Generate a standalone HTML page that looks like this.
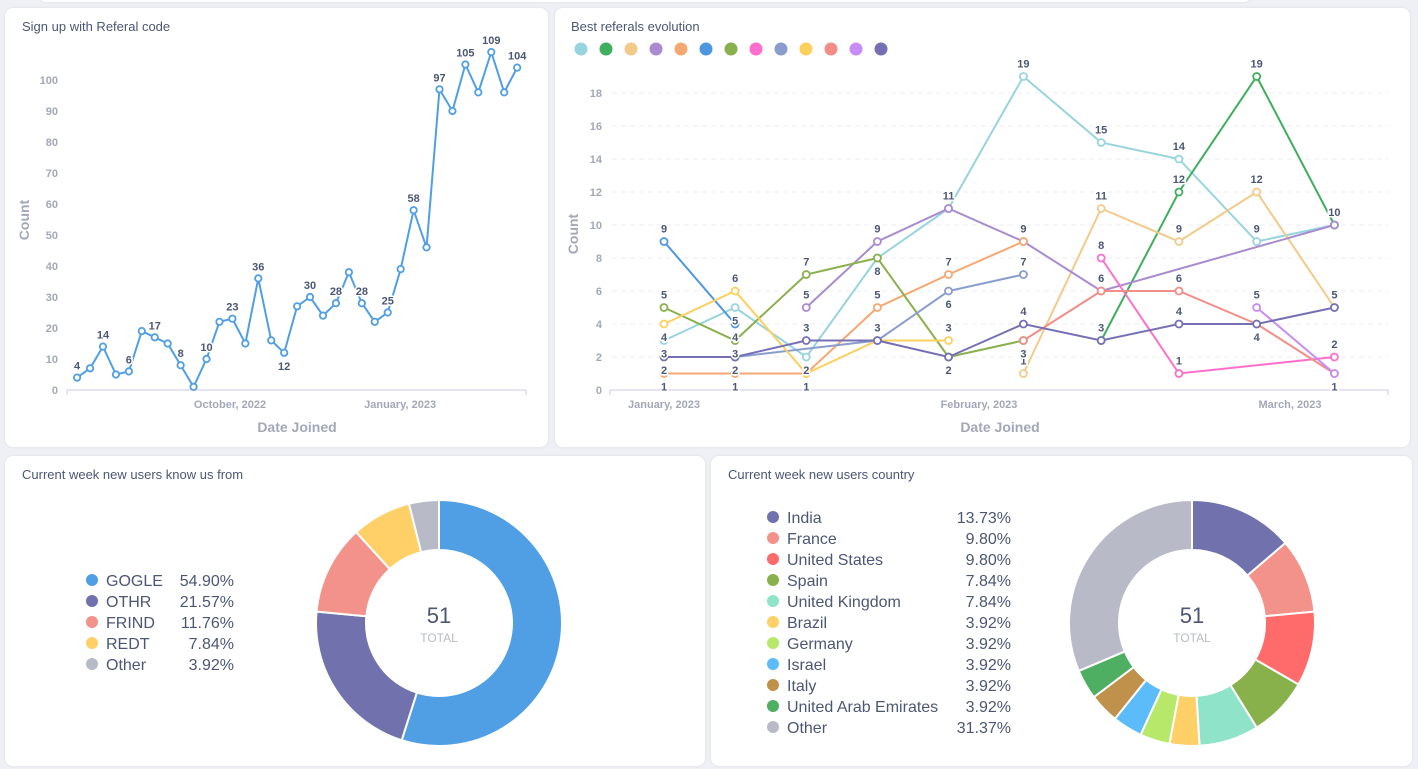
<!DOCTYPE html>
<html><head><meta charset="utf-8">
<style>
body{margin:0;width:1418px;height:769px;background:#eff0f5;font-family:"Liberation Sans",sans-serif;overflow:hidden;position:relative}
.card{position:absolute;background:#fff;border-radius:8px;box-shadow:0 0 3px rgba(0,0,0,0.08)}
.title{position:absolute;left:17px;top:11px;font-size:13px;color:#4c5773}
svg{position:absolute;left:0;top:0}
svg text{font-family:"Liberation Sans",sans-serif}
</style></head><body>
<div class="card" style="left:40px;top:-10px;width:1210px;height:12px"></div>
<div class="card" style="left:5px;top:8px;width:543px;height:439px"><div class="title">Sign up with Referal code</div></div>
<div class="card" style="left:555px;top:8px;width:855px;height:439px"><div class="title" style="left:16px">Best referals evolution</div></div>
<div class="card" style="left:5px;top:456px;width:700px;height:310px"><div class="title">Current week new users know us from</div></div>
<div class="card" style="left:711px;top:456px;width:701px;height:310px"><div class="title">Current week new users country</div></div>
<svg id="s" width="1418" height="769"></svg>
<script>
// Chart 1 data
const signupValues=[4,7,14,5,6,19,17,15,8,1,10,22,23,15,36,16,12,27,30,24,28,38,28,22,25,39,58,46,97,90,105,96,109,96,104];
const signupYTicks=[0,10,20,30,40,50,60,70,80,90,100];
const signupXTicks=["October, 2022","January, 2023"];
const signupXTickDays=[0,92];
// Chart 2 data
const refDays=[0,7,14,21,28,35,42,49,56,63];
const refColors=["#98d4de","#3fae5e","#f2ca8a","#a98bcf","#f5a872","#4e97e0","#89b04d","#ff6ecb","#8a9ccc","#fdd05e","#f28d87","#c78cf5","#7570b3"];
const refS1=[3,5,2,8,11,19,15,14,9,10];
const refS2=[null,null,null,null,null,null,3,12,19,10];
const refS3=[null,null,null,null,null,1,11,9,12,5];
const refS4=[null,null,5,9,11,9,6,null,null,10];
const refS5=[1,1,1,5,7,9,null,null,null,null];
const refS6=[9,4,null,null,null,null,null,null,null,null];
const refS7=[5,3,7,8,2,3,null,null,null,null];
const refS8=[null,null,null,null,null,null,8,1,null,2];
const refS9=[null,2,null,3,6,7,null,null,null,null];
const refS10=[4,6,1,3,3,null,null,null,null,null];
const refS11=[null,null,null,null,null,3,6,6,4,1];
const refS12=[null,null,null,null,null,null,null,null,5,1];
const refS13=[2,2,3,3,2,4,3,4,4,5];
const refYTicks=[0,2,4,6,8,10,12,14,16,18];
const refXTicks=["January, 2023","February, 2023","March, 2023"];
const refXTickDays=[0,31,59];
// Donut data
const srcLabels=["GOGLE","OTHR","FRIND","REDT","Other"];
const srcValues=[28,11,6,4,2];
const srcPct=["54.90%","21.57%","11.76%","7.84%","3.92%"];
const srcColors=["#509ee3","#7172ad","#f2928a","#fed067","#b8bbc7"];
const ctyLabels=["India","France","United States","Spain","United Kingdom","Brazil","Germany","Israel","Italy","United Arab Emirates","Other"];
const ctyValues=[7,5,5,4,4,2,2,2,2,2,16];
const ctyPct=["13.73%","9.80%","9.80%","7.84%","7.84%","3.92%","3.92%","3.92%","3.92%","3.92%","31.37%"];
const ctyColors=["#7172ad","#f2928a","#ff6b6b","#88b04b","#8fe3c9","#fed067","#b8e86a","#5bbcf9","#c0914b","#4eae61","#b8bbc7"];

const S=document.getElementById('s');const NS="http://www.w3.org/2000/svg";
function mk(t,a,p){const e=document.createElementNS(NS,t);for(const k in a)e.setAttribute(k,a[k]);(p||S).appendChild(e);return e;}
function txt(x,y,s,a){const e=mk('text',Object.assign({x:x,y:y},a));e.textContent=s;return e;}

// ---- Chart 1
const y1=v=>390-v*3.1, x1=d=>230+d*1.849;
signupYTicks.forEach(t=>{const e=txt(58,y1(t)+4,t,{'text-anchor':'end','font-size':11,'font-weight':'bold',fill:'#a3a8b8'});

});
let ax=mk('path',{d:'M67 395V390H526V395',stroke:'#c9cbe0',fill:'none'});

signupXTicks.forEach((t,i)=>{const e=txt(x1(signupXTickDays[i]),408,t,{'text-anchor':'middle','font-size':11,'font-weight':'bold',fill:'#a3a8b8'});

});
let e1=txt(297,432,'Date Joined',{'text-anchor':'middle','font-size':14,'font-weight':'bold',fill:'#a3a8b8'});

e1=txt(0,0,'Count',{'text-anchor':'middle','font-size':14,'font-weight':'bold',fill:'#a3a8b8',transform:'translate(29,220) rotate(-90)'});

const pts1=signupValues.map((v,i)=>[x1(-82.7+7*i),y1(v)]);
e1=mk('polyline',{points:pts1.map(p=>p.join(',')).join(' '),fill:'none',stroke:'#509ee3','stroke-width':2});

pts1.forEach((p,i)=>{const c=mk('circle',{cx:p[0],cy:p[1],r:3.2,fill:'#fff',stroke:'#509ee3','stroke-width':1.8});


if(i%2==0){const below=signupValues[i]==12;const l=txt(p[0],below?p[1]+17:p[1]-8,signupValues[i],{'text-anchor':'middle','font-size':11,'font-weight':'bold',fill:'#4c5773',stroke:'#fff','stroke-width':3,'paint-order':'stroke'});

}});

// ---- Chart 2
const y2=v=>390-v*16.5;
const x2=d=>d<=31?664+d*(315/31):979+(d-31)*(311/28);
refYTicks.forEach(t=>{if(t>0){const g=mk('line',{x1:612,x2:1388,y1:y2(t),y2:y2(t),stroke:'#eceef3','stroke-dasharray':'5,4'});

}
const e=txt(602,y2(t)+4,t,{'text-anchor':'end','font-size':11,'font-weight':'bold',fill:'#a3a8b8'});

});
ax=mk('path',{d:'M610 395V390H1388V395',stroke:'#c9cbe0',fill:'none'});

refXTicks.forEach((t,i)=>{const e=txt(x2(refXTickDays[i]),408,t,{'text-anchor':'middle','font-size':11,'font-weight':'bold',fill:'#a3a8b8'});

});
e1=txt(1000,432,'Date Joined',{'text-anchor':'middle','font-size':14,'font-weight':'bold',fill:'#a3a8b8'});

e1=txt(0,0,'Count',{'text-anchor':'middle','font-size':14,'font-weight':'bold',fill:'#a3a8b8',transform:'translate(578,234) rotate(-90)'});

const refSeries=[refS1,refS2,refS3,refS4,refS5,refS6,refS7,refS8,refS9,refS10,refS11,refS12,refS13];
refColors.forEach((c,i)=>{const d=mk('circle',{cx:581+25*i,cy:49,r:6.5,fill:c});

});
const labelG=[];
refSeries.forEach((s,k)=>{const pts=[];s.forEach((v,i)=>{if(v!=null)pts.push([x2(refDays[i]),y2(v),v,i]);});
const l=mk('polyline',{points:pts.map(p=>p[0]+','+p[1]).join(' '),fill:'none',stroke:refColors[k],'stroke-width':2});


pts.forEach(p=>{const c=mk('circle',{cx:p[0],cy:p[1],r:3.5,fill:'#fff',stroke:refColors[k],'stroke-width':1.8});


labelG.push(p);});});
// place label below if another point sits just above at the same x
labelG.forEach(p=>{const crowd=labelG.some(q=>q!==p&&q[3]===p[3]&&q[2]>p[2]&&q[2]-p[2]<=1.5);
const l=txt(p[0],crowd?p[1]+17:p[1]-9,p[2],{'text-anchor':'middle','font-size':11,'font-weight':'bold',fill:'#4c5773',stroke:'#fff','stroke-width':3,'paint-order':'stroke'});

});

// ---- Donuts
function donut(cx,cy,vals,cols,name){const tot=vals.reduce((a,b)=>a+b,0);let a0=0;const R=123,r=73;
vals.forEach((v,i)=>{const a1=a0+v/tot*Math.PI*2;const P=(rad,a)=>[cx+rad*Math.sin(a),cy-rad*Math.cos(a)];
const lg=(a1-a0)>Math.PI?1:0;const p1=P(R,a0),p2=P(R,a1),p3=P(r,a1),p4=P(r,a0);
const s=mk('path',{d:`M${p1}A${R},${R} 0 ${lg} 1 ${p2}L${p3}A${r},${r} 0 ${lg} 0 ${p4}Z`,fill:cols[i],stroke:'#fff','stroke-width':2});


a0=a1;});
let t=txt(cx,cy+0,tot,{'text-anchor':'middle','font-size':22,fill:'#4c5773'});

t=txt(cx,cy+19,'TOTAL',{'text-anchor':'middle','font-size':12,fill:'#b8bbc7'});
}
donut(439,623,srcValues,srcColors,'source-donut');
donut(1192,623,ctyValues,ctyColors,'country-donut');
function legend(x,xr,y0,labels,pct,cols,name){labels.forEach((l,i)=>{const y=y0+21*i;
const d=mk('circle',{cx:x,cy:y,r:6,fill:cols[i]});
let t=txt(x+14,y+6,l,{'font-size':16,fill:'#4c5773'});
t=txt(xr,y+6,pct[i],{'font-size':16,fill:'#4c5773','text-anchor':'end'});});}
legend(92,234,580,srcLabels,srcPct,srcColors,'source-legend');
legend(773,1011,517,ctyLabels,ctyPct,ctyColors,'country-legend');
</script>
</body></html>
